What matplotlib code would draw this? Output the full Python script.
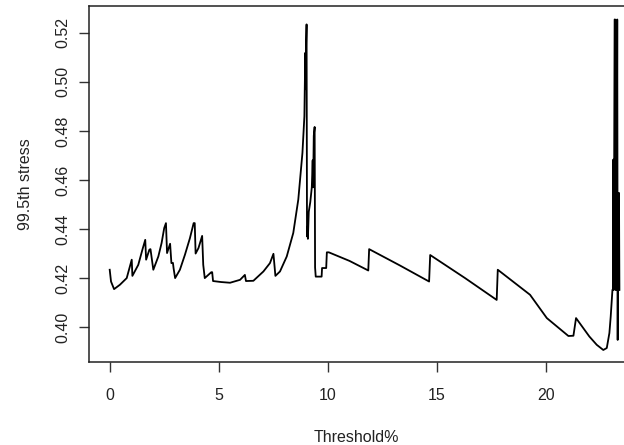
import matplotlib
matplotlib.use("Agg")
import matplotlib.pyplot as plt

plt.rcParams['font.family'] = ['Liberation Sans', 'DejaVu Sans']

# values (threshold %, 99.5th stress)
threshold = [
    0.00, 0.06, 0.20, 0.47, 0.78, 1.01, 1.04, 1.31, 1.50, 1.63, 1.67, 1.82, 1.87,
    2.00, 2.23, 2.38, 2.50, 2.58, 2.63, 2.77, 2.83, 2.90, 2.93, 3.00, 3.22, 3.45,
    3.68, 3.85, 3.90, 3.94, 4.07, 4.24, 4.29, 4.36, 4.66, 4.70, 4.74, 5.10, 5.52,
    5.98, 6.20, 6.25, 6.59, 7.05, 7.35, 7.51, 7.60, 7.81, 8.12, 8.42, 8.65, 8.84,
    8.93, 8.97, 8.99, 9.01, 9.03, 9.05, 9.07, 9.09, 9.13, 9.20, 9.27, 9.31, 9.33,
    9.36, 9.40, 9.42, 9.45, 9.72, 9.74, 9.93, 9.96, 10.05, 11.00, 11.86, 11.90,
    13.30, 14.65, 14.70, 16.30, 17.75, 17.80, 19.28, 20.05, 21.04, 21.27, 21.39,
    22.00, 22.34, 22.64, 22.80, 22.92, 22.98, 23.06, 23.08, 23.10, 23.12, 23.14,
    23.16, 23.18, 23.20, 23.22, 23.24, 23.26, 23.28, 23.30, 23.32, 23.34, 23.36,
    23.38,
]
stress = [
    0.4234, 0.4186, 0.4155, 0.4173, 0.4200, 0.4275, 0.4209, 0.4254, 0.4316, 0.4356,
    0.4275, 0.4316, 0.4318, 0.4234, 0.4288, 0.4343, 0.4404, 0.4424, 0.4302, 0.4340,
    0.4261, 0.4262, 0.4240, 0.4200, 0.4234, 0.4295, 0.4363, 0.4424, 0.4424, 0.4300,
    0.4322, 0.4372, 0.4254, 0.4200, 0.4224, 0.4224, 0.4188, 0.4184, 0.4181, 0.4193,
    0.4213, 0.4188, 0.4189, 0.4227, 0.4261, 0.4299, 0.4209, 0.4227, 0.4288, 0.4384,
    0.4520, 0.4710, 0.4860, 0.5118, 0.4970, 0.5160, 0.5234, 0.4370, 0.4410, 0.4360,
    0.4470, 0.4510, 0.4570, 0.4680, 0.4570, 0.4780, 0.4816, 0.4243, 0.4206, 0.4206,
    0.4241, 0.4241, 0.4305, 0.4305, 0.4270, 0.4231, 0.4318, 0.4252, 0.4186, 0.4294,
    0.4200, 0.4111, 0.4234, 0.4132, 0.4037, 0.3964, 0.3965, 0.4037, 0.3962, 0.3928,
    0.3907, 0.3915, 0.3976, 0.4043, 0.4152, 0.4152, 0.4683, 0.4152, 0.4683, 0.5254,
    0.5254, 0.4152, 0.4547, 0.4152, 0.4547, 0.5254, 0.3948, 0.4547, 0.4152, 0.4547,
    0.4152,
]

x_ticks = [0, 5, 10, 15, 20]
y_ticks = [0.40, 0.42, 0.44, 0.46, 0.48, 0.50, 0.52]

fig = plt.figure(figsize=(6.24, 4.45), dpi=100)
ax = fig.add_axes([89 / 624, 83 / 445, (624 - 89) / 624, 356 / 445])

ax.plot(threshold, stress, color='black', lw=1.3)

ax.set_xlim(-0.95, 23.59)
ax.set_ylim(0.3858, 0.5309)
ax.set_xticks(x_ticks)
ax.set_yticks(y_ticks)
ax.set_yticklabels(['%.2f' % v for v in y_ticks], rotation=90, va='center')

for side in ['left', 'bottom', 'top']:
    ax.spines[side].set_linewidth(1.1)
    ax.spines[side].set_color('#222222')
ax.spines['right'].set_visible(False)

ax.tick_params(length=7.5, width=1.0, color='#333333', labelsize=11.5,
               labelcolor='#222222')
ax.tick_params(axis='x', pad=11)
ax.tick_params(axis='y', pad=6)

ax.set_xlabel('Threshold%', fontsize=11.5, color='#222222', labelpad=20)
ax.set_ylabel('99.5th stress', fontsize=11.5, color='#222222', labelpad=16)

fig.savefig('out.png', dpi=100)
